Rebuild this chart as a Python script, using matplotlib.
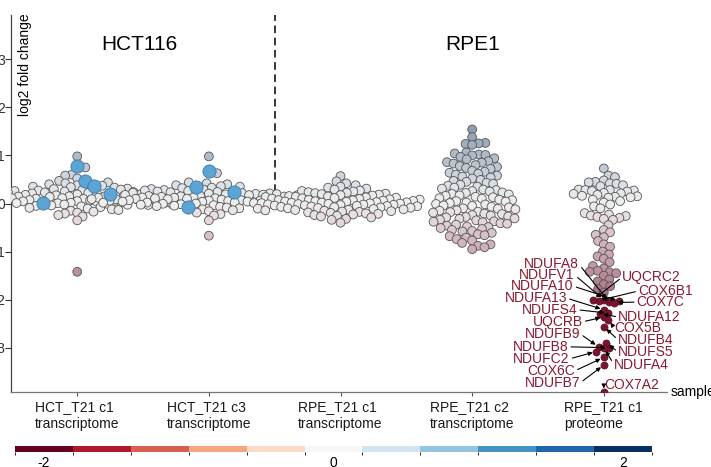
import numpy as np
import matplotlib
matplotlib.use('Agg')
import matplotlib.pyplot as plt
from matplotlib.colors import LinearSegmentedColormap, ListedColormap, BoundaryNorm, Normalize
from matplotlib.colorbar import ColorbarBase

plt.rcParams['font.family'] = ['Liberation Sans', 'DejaVu Sans']

# ---- data (log2 fold change) ----
samples = ['HCT_T21 c1\ntranscriptome', 'HCT_T21 c3\ntranscriptome',
           'RPE_T21 c1\ntranscriptome', 'RPE_T21 c2\ntranscriptome',
           'RPE_T21 c1\nproteome']

hct_c1 = [0.98, 0.75, 0.60, 0.58, 0.52,
          0.47, 0.44, 0.42, 0.40, 0.38, 0.37, 0.35, 0.34, 0.33, 0.31, 0.30,
          0.29, 0.28, 0.27, 0.26, 0.25, 0.24, 0.235, 0.23, 0.225, 0.22, 0.21, 0.21, 0.20,
          0.195, 0.19, 0.18, 0.18, 0.17, 0.165, 0.16, 0.155, 0.15, 0.15, 0.145,
          0.14, 0.135, 0.13, 0.13, 0.12, 0.12, 0.112, 0.11, 0.105, 0.10, 0.10,
          0.095, 0.09, 0.088, 0.085, 0.08, 0.075, 0.072, 0.07, 0.065, 0.06, 0.06,
          0.055, 0.052, 0.05, 0.045, 0.04, 0.038, 0.035, 0.03, 0.025, 0.022,
          0.015, 0.01, 0.008, 0.005, 0.0, -0.005,
          -0.01, -0.015, -0.02, -0.025, -0.03, -0.04, -0.05, -0.06, -0.075, -0.09,
          -0.105, -0.12, -0.135, -0.15, -0.17, -0.19, -0.21, -0.24, -0.27,
          -0.35, -1.42]
hct_c1_hits = [0.79, 0.46, 0.36, 0.19, 0.02]

hct_c3 = [0.98, 0.63, 0.44, 0.42, 0.40, 0.38, 0.36, 0.35, 0.33, 0.32, 0.30,
          0.29, 0.28, 0.27, 0.26, 0.25, 0.24, 0.235, 0.225, 0.215, 0.21, 0.205,
          0.20, 0.195, 0.19, 0.185, 0.18, 0.175, 0.17, 0.165, 0.155, 0.15, 0.15,
          0.145, 0.14, 0.138, 0.132, 0.13, 0.125, 0.12, 0.12, 0.115, 0.11,
          0.108, 0.102, 0.10, 0.098, 0.092, 0.09, 0.085, 0.08, 0.08, 0.075,
          0.07, 0.068, 0.062, 0.06, 0.058, 0.052, 0.05, 0.045, 0.04, 0.04,
          0.035, 0.03, 0.028, 0.022, 0.02, 0.015, 0.01, 0.008, 0.0, -0.005, -0.008,
          -0.015, -0.025, -0.035, -0.045, -0.055, -0.07, -0.085,
          -0.10, -0.12, -0.14, -0.16, -0.19, -0.22, -0.25, -0.35, -0.67]
hct_c3_hits = [0.67, 0.34, -0.08, 0.23]

rpe_c1 = [0.57, 0.46, 0.42, 0.38, 0.35, 0.33, 0.31, 0.29, 0.27, 0.26, 0.25,
          0.235, 0.225, 0.215, 0.205, 0.195, 0.185, 0.175, 0.165, 0.155,
          0.148, 0.142, 0.135, 0.128, 0.122, 0.115,
          0.108, 0.102, 0.095, 0.088, 0.082, 0.076, 0.07,
          0.065, 0.06, 0.054, 0.048, 0.042, 0.036, 0.03,
          0.025, 0.02, 0.014, 0.008, 0.003, -0.002, -0.007, -0.012,
          -0.017, -0.022, -0.027, -0.032, -0.037, -0.042, -0.047, -0.052,
          -0.058, -0.064, -0.07, -0.076, -0.082, -0.088, -0.094,
          -0.10, -0.107, -0.114, -0.121, -0.128, -0.135,
          -0.143, -0.151, -0.159, -0.167, -0.175,
          -0.185, -0.195, -0.205, -0.215, -0.228, -0.24, -0.255,
          -0.27, -0.29, -0.32, -0.34, -0.40]

rpe_c2 = [1.54, 1.38, 1.26, 1.25, 1.24, 1.22,
          1.06, 1.04, 1.02, 1.01, 1.00, 0.97, 0.94, 0.92,
          0.88, 0.86, 0.85, 0.83, 0.80, 0.78, 0.76, 0.74, 0.72,
          0.68, 0.66, 0.64, 0.62, 0.60, 0.58, 0.56, 0.54, 0.52,
          0.49, 0.47, 0.45, 0.43, 0.41, 0.39, 0.37, 0.35, 0.33, 0.31,
          0.29, 0.28, 0.26, 0.25, 0.23, 0.22, 0.20,
          0.19, 0.17, 0.16, 0.14, 0.13, 0.11, 0.10,
          0.08, 0.07, 0.05, 0.04, 0.02, 0.01,
          -0.01, -0.02, -0.04, -0.05, -0.07, -0.08, -0.10,
          -0.11, -0.12, -0.14, -0.15, -0.17, -0.18, -0.19,
          -0.21, -0.22, -0.24, -0.25, -0.27, -0.28, -0.29,
          -0.31, -0.32, -0.34, -0.35, -0.37, -0.38, -0.39,
          -0.41, -0.42, -0.44, -0.46, -0.48, -0.49,
          -0.51, -0.53, -0.55, -0.57, -0.58,
          -0.61, -0.64, -0.66, -0.68, -0.71, -0.74, -0.77,
          -0.82, -0.85, -0.88, -0.91, -0.95]

proteome = [0.73, 0.58, 0.55, 0.48, 0.45, 0.44, 0.42, 0.41, 0.38, 0.36,
            0.29, 0.28, 0.28, 0.27, 0.26, 0.25, 0.22, 0.21, 0.20, 0.18,
            0.16, 0.15, 0.14, 0.13, 0.12, 0.08, 0.05, 0.02, -0.02, -0.06, -0.10,
            -0.20, -0.23, -0.25, -0.26, -0.28, -0.30, -0.32, -0.34,
            -0.45, -0.55, -0.60, -0.65, -0.70, -0.78, -0.85, -0.90,
            -1.00, -1.06, -1.10, -1.15, -1.22, -1.30, -1.35,
            -1.40, -1.42, -1.43, -1.45, -1.50,
            -1.58, -1.62, -1.68, -1.72, -1.78, -1.85]

genes = ['NDUFA8', 'NDUFV1', 'NDUFA10', 'NDUFA13', 'NDUFS4', 'UQCRB',
         'NDUFB9', 'NDUFB8', 'NDUFC2', 'COX6C', 'NDUFB7',
         'UQCRC2', 'COX6B1', 'COX7C', 'NDUFA12', 'COX5B', 'NDUFB4',
         'NDUFS5', 'NDUFA4', 'COX7A2']
gene_vals = [-2.04, -2.00, -2.03, -2.21, -2.28, -2.36,
             -2.98, -3.00, -3.08, -3.20, -3.36,
             -2.00, -2.02, -2.06, -2.29, -2.42, -2.56,
             -2.90, -3.00, -3.92]

cbar_ticks = [-2, 0, 2]
cbar_ticklabels = ['-2', '0', '2']

# label placement (layout only)
gene_side = ['l'] * 11 + ['r'] * 9
gene_text_xy = [(4.81, -1.26), (4.78, -1.49), (4.77, -1.72), (4.72, -1.97),
                (4.80, -2.21), (4.84, -2.46), (4.82, -2.71), (4.73, -2.98),
                (4.74, -3.23), (4.78, -3.48), (4.82, -3.73),
                (5.14, -1.53), (5.26, -1.82), (5.25, -2.05), (5.11, -2.36),
                (5.08, -2.59), (5.11, -2.84), (5.11, -3.09), (5.08, -3.36),
                (5.00, -3.77)]

# ---- figure ----
W, H, DPI = 711, 467, 100
fig = plt.figure(figsize=(W / DPI, H / DPI), dpi=DPI)
ax_l, ax_b, ax_w, ax_h = 11.4, 75, 655.6, 377
ax = fig.add_axes([ax_l / W, ax_b / H, ax_w / W, ax_h / H])
XLIM = (0.5, 5.48)
YLIM = (-3.92, 3.92)
ppx = ax_w / (XLIM[1] - XLIM[0])
ppy = ax_h / (YLIM[1] - YLIM[0])

S_PT, S_HIT, S_GENE = 40, 90, 26


def diam_px(s):
    return np.sqrt(s) * DPI / 72


def swarm(vals, diams, n_extra=0, overlap=0.76):
    # beeswarm in pixel space. Regular points go in a well mixed order
    # (golden ratio stride over the sorted values); the last n_extra points
    # are slotted in after a quarter of the regular ones.
    y = np.asarray(vals) * ppy
    d = np.asarray(diams)
    n = len(y)
    n_reg = n - n_extra
    by_val = np.argsort(y[:n_reg], kind='stable')
    mixed = list(by_val[np.argsort((np.arange(n_reg) * 0.6180339887) % 1, kind='stable')])
    k = n_reg // 4
    order = mixed[:k] + list(range(n_reg, n)) + mixed[k:]
    xs = np.zeros(n)
    done = []
    for i in order:
        if done:
            idx = np.array(done)
            dy = y[i] - y[idx]
            dmin = (d[i] + d[idx]) / 2 * overlap
            near = np.abs(dy) < dmin
            if near.any():
                px = xs[idx][near]
                py = dy[near]
                dm = dmin[near]
                dx = np.sqrt(dm ** 2 - py ** 2)
                cands = np.concatenate([[0.0], px + dx, px - dx])
                cands = cands[np.argsort(np.abs(cands), kind='stable')]
                ok = (((cands[:, None] - px[None, :]) ** 2 + py[None, :] ** 2)
                      >= dm[None, :] ** 2 - 1e-6).all(axis=1)
                xs[i] = cands[ok][0]
        done.append(i)
    return xs


pt_cmap = LinearSegmentedColormap.from_list('muted', [
    (0.00, '#9A5E70'), (0.16, '#BA8C99'), (0.32, '#D2B6BF'),
    (0.43, '#E6DBDE'), (0.50, '#EFEFEF'), (0.57, '#E1E5E9'),
    (0.68, '#BCC6D2'), (0.77, '#A3B1C1'), (0.86, '#8C9CAF'),
    (1.00, '#7A8CA3')])
pt_norm = Normalize(vmin=-2.2, vmax=2.2, clip=True)

groups = [(1, hct_c1, hct_c1_hits), (2, hct_c3, hct_c3_hits),
          (3, rpe_c1, []), (4, rpe_c2, []), (5, proteome, gene_vals)]

gene_x = None
for pos, reg, extra in groups:
    reg = np.array(reg, dtype=float)
    extra = np.array(extra, dtype=float)
    allv = np.concatenate([reg, extra])
    is_prot = pos == 5
    s_extra = S_GENE if is_prot else S_HIT
    diams = np.concatenate([np.full(len(reg), diam_px(S_PT)),
                            np.full(len(extra), diam_px(s_extra))])
    off = swarm(allv, diams, n_extra=0 if is_prot else len(extra)) / ppx
    xr = pos + off[:len(reg)]
    xe = pos + off[len(reg):]
    ax.scatter(xr, reg, s=S_PT, c=pt_cmap(pt_norm(reg)), edgecolors='#555555',
               linewidths=0.6, zorder=3)
    if len(extra):
        if is_prot:
            ax.scatter(xe, extra, s=S_GENE, c='#7A1530', edgecolors='#5C0E22',
                       linewidths=0.5, zorder=4)
            gene_x = xe
        else:
            ax.scatter(xe, extra, s=S_HIT, c='#5BA4D4', edgecolors='#3B7BAA',
                       linewidths=0.6, zorder=4)

for name, gx, gy, side, (tx, ty) in zip(genes, gene_x, gene_vals, gene_side, gene_text_xy):
    ax.annotate(name, xy=(gx, gy), xytext=(tx, ty),
                ha='right' if side == 'l' else 'left', va='center',
                fontsize=10, color='#8A1A30', zorder=5,
                arrowprops=dict(arrowstyle='-|>', color='black', lw=0.8,
                                mutation_scale=6, shrinkA=0, shrinkB=2.5,
                                relpos=(1, 0.5) if side == 'l' else (0, 0.5)))

# separators and headers
ax.plot([2.5, 2.5], [0.24, YLIM[1]], color='black', lw=1.1, ls=(0, (5, 3)), zorder=2)
ax.text(1.47, 3.30, 'HCT116', fontsize=15, ha='center', va='center')
ax.text(4.0, 3.30, 'RPE1', fontsize=15, ha='center', va='center')
ax.text(0.60, YLIM[1] + 0.04, 'log2 fold change', rotation=90, fontsize=10,
        ha='center', va='top')
ax.text(1.005, 0.0, 'sample', transform=ax.transAxes, fontsize=10,
        ha='left', va='center', clip_on=False)

ax.set_xlim(*XLIM)
ax.set_ylim(*YLIM)
ax.set_xticks(range(1, 6))
ax.set_xticklabels(samples, fontsize=10, color='#1A1A1A')
for lbl in ax.get_xticklabels():
    lbl.set_multialignment('left')
ax.set_yticks(range(-3, 4))
ax.tick_params(axis='y', length=4, width=0.8, pad=0.6, labelsize=10, colors='#333333')
ax.tick_params(axis='x', length=3, width=0.8, pad=3, colors='#555555', labelcolor='#1A1A1A')
for side in ['top', 'right']:
    ax.spines[side].set_visible(False)
ax.spines['left'].set_color('#444444')
ax.spines['bottom'].set_color('#777777')
ax.spines['left'].set_linewidth(0.9)
ax.spines['bottom'].set_linewidth(0.9)

# colour key
rdbu11 = ['#67001F', '#B2182B', '#D6604D', '#F4A582', '#FDDBC7', '#F7F7F7',
          '#D1E5F0', '#92C5DE', '#4393C3', '#2166AC', '#053061']
cax = fig.add_axes([15 / W, (H - 451.5) / H, 637 / W, 5.5 / H])
cb = ColorbarBase(cax, cmap=ListedColormap(rdbu11),
                  norm=BoundaryNorm(np.linspace(-2.2, 2.2, 12), 11),
                  orientation='horizontal', ticks=cbar_ticks)
cb.outline.set_visible(False)
cb.set_ticklabels(cbar_ticklabels)
cax.tick_params(length=0, pad=3, labelsize=10)

fig.savefig('out.png', dpi=DPI)
